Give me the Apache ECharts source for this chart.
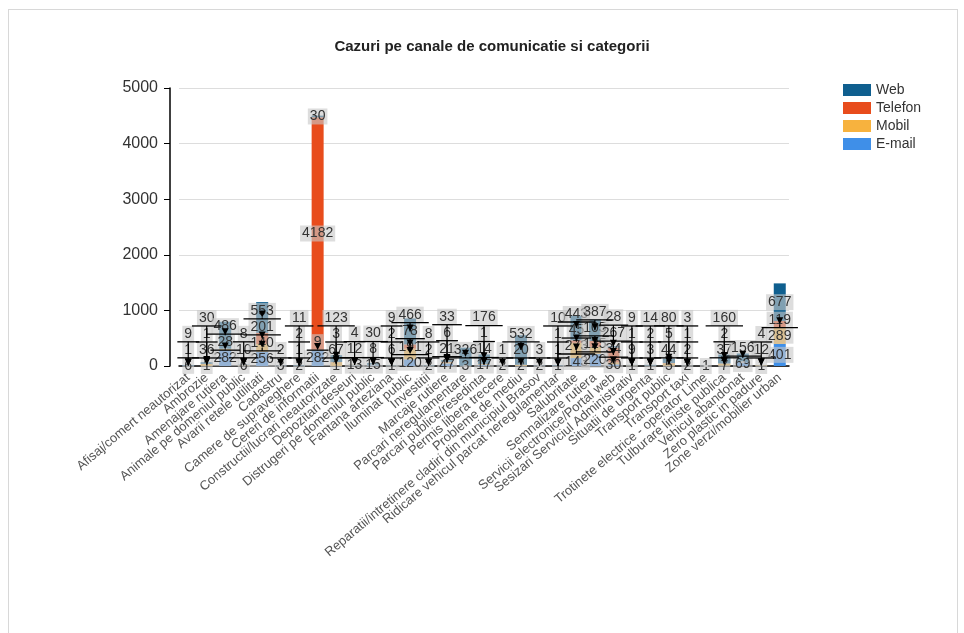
<!DOCTYPE html>
<html>
<head>
<meta charset="utf-8">
<script src="https://cdn.jsdelivr.net/npm/echarts@6/dist/echarts.min.js"></script>
<style>
html,body{margin:0;padding:0;background:#fff;}
#frame{position:absolute;left:8px;top:9px;width:950px;height:640px;border:1px solid #d8d8d8;box-sizing:border-box;}
#chart{position:absolute;left:0;top:0;width:964px;height:633px;}
</style>
</head>
<body>
<div id="frame"></div>
<div id="chart"></div>
<script>
const categories = [
  'Afisaj/comert neautorizat','Ambrozie','Amenajare rutiera','Animale pe domeniul public',
  'Avarii retele utilitati','Cadastru','Camere de supraveghere','Cereri de informatii',
  'Constructii/lucrari neautorizate','Depozitari deseuri','Distrugeri pe domeniul public',
  'Fantana arteziana','Iluminat public','Investitii','Marcaje rutiere','Parcari neregulamentare',
  'Parcari publice/resedinta','Permis libera trecere','Probleme de mediu',
  'Reparatii/intretinere cladiri din municipiul Brasov','Ridicare vehicul parcat neregulamentar',
  'Salubritate','Semnalizare rutiera','Servicii electronice/Portal web',
  'Sesizari Serviciul Administrativ','Situatii de urgenta','Transport public','Transport taxi',
  'Trotinete electrice - operator Lime','Tulburare liniste publica','Vehicul abandonat',
  'Zero plastic in padure','Zone verzi/mobilier urban'
];
const emailValues   = [6,1,282,6,256,3,2,282,1,13,15,1,120,2,47,0,17,2,2,2,1,143,220,30,1,1,5,2,1,7,69,1,401];
const mobilValues   = [0,36,28,10,140,0,1,9,67,12,8,6,191,2,21,3,14,0,20,0,1,273,125,34,9,3,44,2,0,37,0,12,289];
const telefonValues = [1,1,0,0,201,0,2,4182,3,0,0,2,78,0,6,0,1,0,0,0,1,45,105,267,1,2,5,1,0,2,0,0,119];
const webValues     = [9,30,486,8,553,2,11,30,123,4,30,9,466,8,33,326,176,1,532,3,10,443,387,28,9,14,80,3,0,160,156,4,677];
const yTicks = {min: 0, max: 5000, interval: 1000};

const seriesDefs = [
  {name: 'E-mail', data: emailValues, color: '#3f8fe8'},
  {name: 'Mobil', data: mobilValues, color: '#f7b23e'},
  {name: 'Telefon', data: telefonValues, color: '#e84c1c'},
  {name: 'Web', data: webValues, color: '#0f5f8f'}
];

const chart = echarts.init(document.getElementById('chart'), null, {renderer: 'canvas'});
const FONT = 'Liberation Sans, Arial, sans-serif';
const LABEL_FS = 14;
const labelCfg = {
  show: true,
  position: 'inside',
  fontSize: LABEL_FS,
  color: '#333',
  fontFamily: FONT,
  backgroundColor: 'rgba(200,200,200,0.62)',
  padding: [1, 2],
  formatter: p => (p.value ? String(p.value) : '')
};

chart.setOption({
  animation: false,
  textStyle: {fontFamily: FONT},
  title: {
    text: 'Cazuri pe canale de comunicatie si categorii',
    left: 487, top: 34, textAlign: 'center',
    textStyle: {fontSize: 15, fontWeight: 'bold', color: '#222', fontFamily: FONT}
  },
  legend: {
    data: ['Web', 'Telefon', 'Mobil', 'E-mail'],
    orient: 'vertical', left: 838, top: 78,
    icon: 'rect',
    itemWidth: 28, itemHeight: 12, itemGap: 4,
    textStyle: {fontSize: 14, color: '#333'}
  },
  grid: {left: 179, top: 88, width: 610, height: 278},
  xAxis: {
    type: 'category', data: categories,
    axisLine: {lineStyle: {color: '#000', width: 1.5}},
    axisTick: {show: false},
    axisLabel: {interval: 0, rotate: 40, fontSize: 13, color: '#555', margin: 10}
  },
  yAxis: {
    type: 'value', min: yTicks.min, max: yTicks.max, interval: yTicks.interval,
    offset: 9,
    axisLine: {show: true, lineStyle: {color: '#000', width: 1.5}},
    axisTick: {show: true, length: 6, lineStyle: {color: '#000'}},
    axisLabel: {fontSize: 16, color: '#333', margin: 12, formatter: v => String(v)},
    splitLine: {lineStyle: {color: '#ddd'}}
  },
  series: seriesDefs.map(s => ({
    name: s.name, type: 'bar', stack: 'total', data: s.data,
    barWidth: 12,
    itemStyle: {color: s.color},
    label: labelCfg
  }))
});

// text width measurement for label boxes
const mctx = document.createElement('canvas').getContext('2d');
mctx.font = LABEL_FS + 'px ' + FONT;

// Per-column upward cascade of labels (computed from the data through the axis scale)
const LABEL_H = 16;
const layoutTable = {};
const guides = [];
categories.forEach((c, i) => {
  let cum = 0;
  let prevY = Infinity;
  seriesDefs.forEach((s, si) => {
    const v = s.data[i];
    const mid = chart.convertToPixel({gridIndex: 0}, [i, cum + v / 2]);
    cum += v;
    if (!v) return;
    const y = Math.min(mid[1], prevY - LABEL_H);
    prevY = y;
    layoutTable[si + '_' + i] = {x: mid[0], y};
    if (mid[1] - y > 2) {
      const w = mctx.measureText(String(v)).width + 4;
      const b = y + LABEL_H / 2;
      const ay = mid[1];
      guides.push({type: 'polyline', z: 100, silent: true,
        shape: {points: [[mid[0] - w / 2 - 5, b], [mid[0] + w / 2 + 5, b]]},
        style: {stroke: '#000', lineWidth: 1.3, fill: null}});
      guides.push({type: 'polyline', z: 100, silent: true,
        shape: {points: [[mid[0], b], [mid[0], ay]]},
        style: {stroke: '#000', lineWidth: 1.2, fill: null}});
      guides.push({type: 'polygon', z: 100, silent: true,
        shape: {points: [[mid[0] - 3.5, ay - 7], [mid[0] + 3.5, ay - 7], [mid[0], ay]]},
        style: {fill: '#000'}});
    }
  });
});

chart.setOption({
  graphic: {elements: guides},
  series: seriesDefs.map(() => ({
    labelLayout: function (p) {
      const t = layoutTable[p.seriesIndex + '_' + p.dataIndex];
      if (!t) return {};
      return {x: t.x, y: t.y, align: 'center', verticalAlign: 'middle'};
    }
  }))
});
</script>
</body>
</html>
